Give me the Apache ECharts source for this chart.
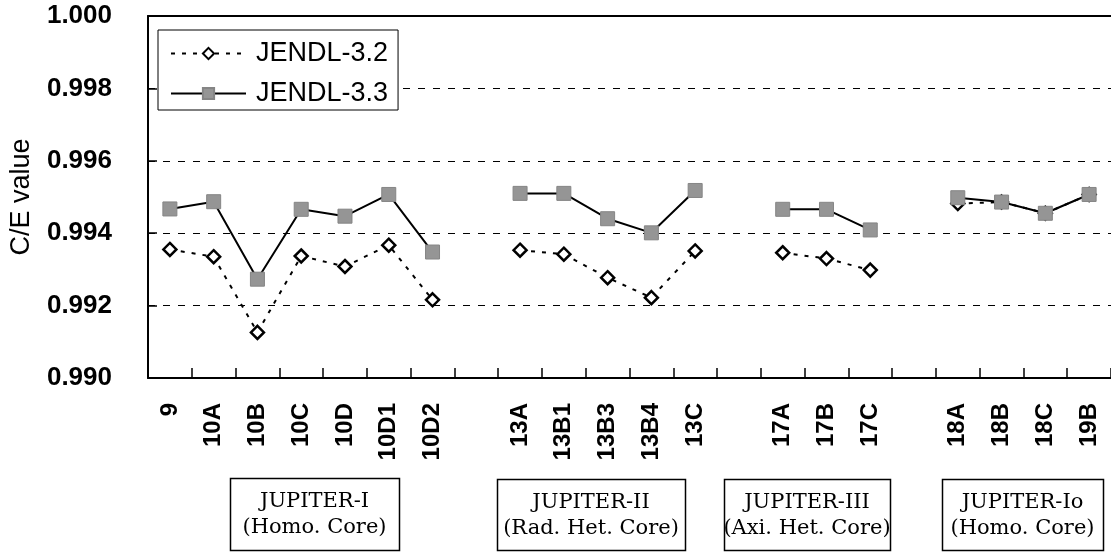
<!DOCTYPE html>
<html>
<head>
<meta charset="utf-8">
<script src="https://cdn.jsdelivr.net/npm/echarts@6/dist/echarts.min.js"></script>
<style>
html,body{margin:0;padding:0;background:#fff;}
#chart{width:1111px;height:553px;}
</style>
</head>
<body>
<div id="chart"></div>
<script>
const categories = ['9','10A','10B','10C','10D','10D1','10D2',' ','13A','13B1','13B3','13B4','13C','  ','17A','17B','17C','   ','18A','18B','18C','19B'];
const jendl32 = [0.99355,0.99335,0.99126,0.99337,0.99308,0.99367,0.99216,null,0.99353,0.99342,0.99277,0.99222,0.99351,null,0.99346,0.99330,0.99298,null,0.99482,0.99486,0.99455,0.99507];
const jendl33 = [0.99467,0.99487,0.99273,0.99466,0.99447,0.99507,0.99348,null,0.99510,0.99510,0.99440,0.99401,0.99518,null,0.99466,0.99466,0.99409,null,0.99498,0.99486,0.99455,0.99507];
const seriesNames = ['JENDL-3.2','JENDL-3.3'];
const yTicks = {min:0.990, max:1.000, interval:0.002};
const groupTitles = ['JUPITER-I','JUPITER-II','JUPITER-III','JUPITER-Io'];
const groupSubs = ['(Homo. Core)','(Rad. Het. Core)','(Axi. Het. Core)','(Homo. Core)'];
const groupBoxes = [[230,478,169,72],[497,479,188,71],[724,479,166,71],[942,479,161,71]];

const chart = echarts.init(document.getElementById('chart'));
const sans = "'Liberation Sans', Arial, sans-serif";
const serif = "'DejaVu Serif', serif";

const graphics = [];
groupBoxes.forEach((b,i)=>{
  graphics.push({type:'rect', shape:{x:b[0]+0.5,y:b[1]+0.5,width:b[2],height:b[3]}, style:{fill:'#fff',stroke:'#000',lineWidth:1.5}});
  graphics.push({type:'text', x:b[0]+b[2]/2, y:b[1]+b[3]/2+1, style:{text:groupTitles[i]+'\n'+groupSubs[i], font:'21px '+serif, fill:'#000', align:'center', verticalAlign:'middle', lineHeight:26}});
});

chart.setOption({
  animation:false,
  backgroundColor:'#fff',
  grid:{left:146, top:16, width:968, height:362, containLabel:false},
  legend:{
    orient:'vertical', left:158, top:30,
    padding:[10,10,3,12], itemGap:13,
    itemWidth:75, itemHeight:14,
    backgroundColor:'#fff', borderColor:'#000', borderWidth:1,
    textStyle:{fontFamily:sans, fontSize:27, color:'#000', padding:[0,0,0,5]},
    data:seriesNames
  },
  xAxis:[{
    type:'category', data:categories, boundaryGap:true,
    axisLine:{show:true, lineStyle:{color:'#000', width:2}},
    axisTick:{show:true, inside:true, length:10, interval:0, lineStyle:{color:'#000', width:1.5}},
    axisLabel:{interval:0, rotate:90, margin:25, fontFamily:sans, fontSize:24, fontWeight:'bold', color:'#000'},
    splitLine:{show:false}
  },{
    type:'category', data:categories, position:'top', boundaryGap:true,
    axisLine:{show:true, lineStyle:{color:'#000', width:2}},
    axisTick:{show:false}, axisLabel:{show:false}, splitLine:{show:false}
  }],
  yAxis:{
    type:'value', min:yTicks.min, max:yTicks.max, interval:yTicks.interval,
    name:'C/E value', nameLocation:'middle', nameGap:113,
    nameTextStyle:{fontFamily:sans, fontSize:27, color:'#000'},
    axisLine:{show:true, lineStyle:{color:'#000', width:2}},
    axisTick:{show:true, inside:true, length:9, lineStyle:{color:'#000', width:1.5}},
    axisLabel:{margin:36, fontFamily:sans, fontSize:26, fontWeight:'bold', color:'#000', formatter:v=>v.toFixed(3)},
    splitLine:{show:true, lineStyle:{color:'#000', width:1.2, type:[7,8]}}
  },
  series:[{
    name:seriesNames[0], type:'line', data:jendl32, xAxisIndex:0,
    symbol:'diamond', symbolSize:13, connectNulls:false,
    lineStyle:{color:'#000', width:2, type:[4,7]},
    itemStyle:{color:'#fff', borderColor:'#000', borderWidth:2.5}
  },{
    name:seriesNames[1], type:'line', data:jendl33, xAxisIndex:0,
    symbol:'rect', symbolSize:14, connectNulls:false,
    lineStyle:{color:'#000', width:2},
    itemStyle:{color:'#959595', borderColor:'#858585', borderWidth:1}
  }],
  graphic:graphics
});
</script>
</body>
</html>
